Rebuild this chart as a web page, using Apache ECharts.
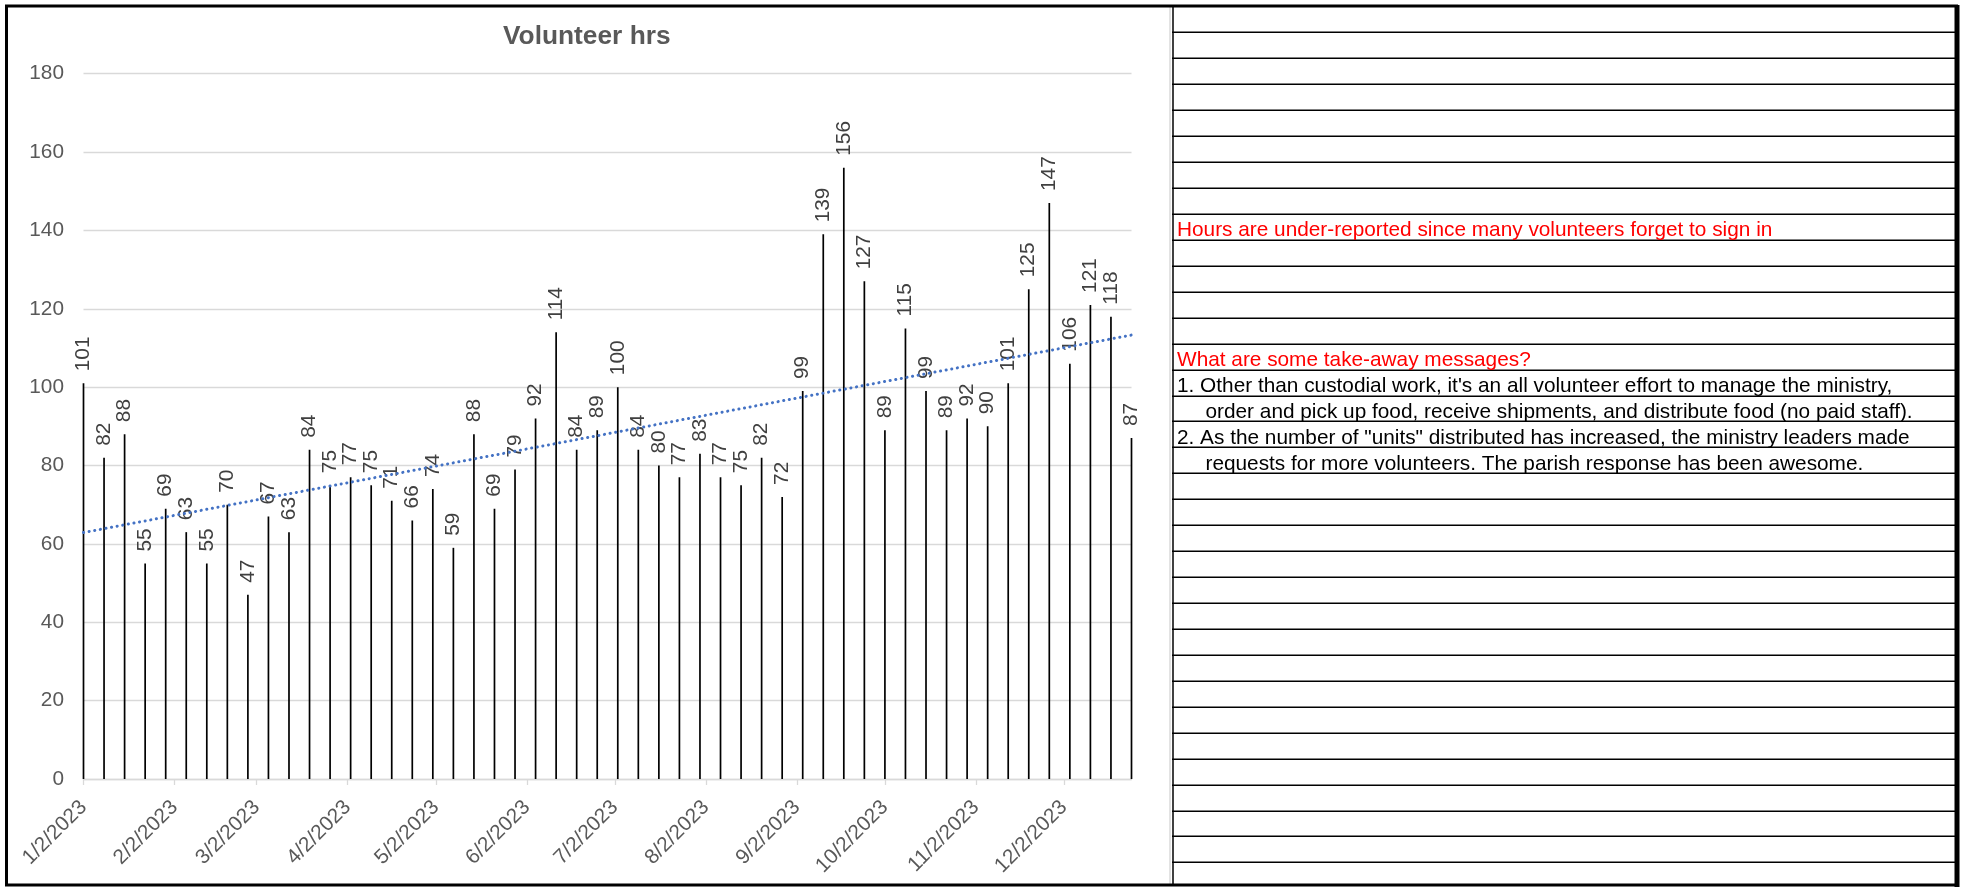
<!DOCTYPE html>
<html><head><meta charset="utf-8">
<script src="https://cdn.jsdelivr.net/npm/echarts@6/dist/echarts.min.js"></script>
<style>html,body{margin:0;padding:0;background:#fff}#c{width:1965px;height:888px}</style>
</head><body><div id="c"></div>
<script>
// ---------- data ----------
const weekDates = [
 '2023-01-02','2023-01-09','2023-01-16','2023-01-23','2023-01-30',
 '2023-02-06','2023-02-13','2023-02-20','2023-02-27',
 '2023-03-06','2023-03-13','2023-03-20','2023-03-27',
 '2023-04-03','2023-04-10','2023-04-17','2023-04-24',
 '2023-05-01','2023-05-08','2023-05-15','2023-05-22','2023-05-29',
 '2023-06-05','2023-06-12','2023-06-19','2023-06-26',
 '2023-07-03','2023-07-10','2023-07-17','2023-07-24','2023-07-31',
 '2023-08-07','2023-08-14','2023-08-21','2023-08-28',
 '2023-09-04','2023-09-11','2023-09-18','2023-09-25',
 '2023-10-02','2023-10-09','2023-10-16','2023-10-23','2023-10-30',
 '2023-11-06','2023-11-13','2023-11-20','2023-11-27',
 '2023-12-04','2023-12-11','2023-12-18','2023-12-25'
];
const hours = [
 101,82,88,55,69,
 63,55,70,47,
 67,63,84,75,
 77,75,71,66,
 74,59,88,69,79,
 92,114,84,89,
 100,84,80,77,83,
 77,75,82,72,
 99,139,156,127,
 89,115,99,89,92,
 90,101,125,147,
 106,121,118,87
];
const tickDates = ['2023-01-02','2023-02-02','2023-03-02','2023-04-02','2023-05-02','2023-06-02',
 '2023-07-02','2023-08-02','2023-09-02','2023-10-02','2023-11-02','2023-12-02'];
const tickLabels = ['1/2/2023','2/2/2023','3/2/2023','4/2/2023','5/2/2023','6/2/2023',
 '7/2/2023','8/2/2023','9/2/2023','10/2/2023','11/2/2023','12/2/2023'];
const axisStart = '2023-01-02';
const axisEnd = '2023-12-25';
const trendDates = ['2023-01-02','2023-12-25'];
const trendValues = [62.9, 113.3];
const chartTitle = 'Volunteer hrs';
const noteTexts = [
 'Hours are under-reported since many volunteers forget to sign in',
 'What are some take-away messages?',
 '1. Other than custodial work, it\'s an all volunteer effort to manage the ministry,',
 'order and pick up food, receive shipments, and distribute food (no paid staff).',
 '2. As the number of "units" distributed has increased, the ministry leaders made',
 'requests for more volunteers. The parish response has been awesome.'
];

// ---------- helpers ----------
function ts(s){const p=s.split('-').map(Number);return Date.UTC(p[0],p[1]-1,p[2]);}
const tickVals = tickDates.map(ts);
const FONT = '"Liberation Sans", Arial, sans-serif';

// ---------- layout of the right-hand sheet ----------
const noteRows = [8,13,14,15,16,17];
const noteIndent = [false,false,false,true,false,true];
const noteColor = ['#ff0000','#ff0000','#000000','#000000','#000000','#000000'];
const rowTop = 6.4, rowH = 25.94, sheetL = 1172, sheetR = 1955;

const graphics = [];
graphics.push({type:'line',shape:{x1:1170,y1:6,x2:1170,y2:886},style:{stroke:'#d0d0d0',lineWidth:1.2},silent:true});
graphics.push({type:'line',shape:{x1:1173,y1:6,x2:1173,y2:886},style:{stroke:'#000',lineWidth:1.5},silent:true});
for(let k=1;k<=33;k++){
  const y=Math.round(rowTop+rowH*k)+0.25;
  graphics.push({type:'line',shape:{x1:sheetL,y1:y,x2:sheetR,y2:y},style:{stroke:'#000',lineWidth:1.6},silent:true});
}
noteTexts.forEach((t,i)=>{
  const yMid = rowTop + rowH*(noteRows[i]+0.5) + 3.7;
  graphics.push({type:'text',x: noteIndent[i]?1205.5:1177,y:yMid,silent:true,
    style:{text:t,fill:noteColor[i],font:'20.8px '+FONT,textAlign:'left',textVerticalAlign:'middle'}});
});
graphics.push({type:'rect',shape:{x:6.5,y:6,width:1950,height:879},style:{fill:'none',stroke:'#000',lineWidth:3},silent:true});
graphics.push({type:'line',shape:{x1:1957,y1:5,x2:1957,y2:887},style:{stroke:'#000',lineWidth:5},silent:true});

const chart = echarts.init(document.getElementById('c'));
chart.setOption({
  animation:false,
  backgroundColor:'#fff',
  textStyle:{fontFamily:FONT},
  title:{text:chartTitle,left:503,top:24,padding:0,
    textStyle:{fontSize:26.3,fontWeight:'bold',color:'#595959',fontFamily:FONT}},
  grid:{left:83.5,right:833.5,top:73.7,bottom:109,containLabel:false},
  xAxis:{type:'value',min:ts(axisStart),max:ts(axisEnd),
    splitLine:{show:false},
    axisLine:{show:true,lineStyle:{color:'#d9d9d9',width:1.3}},
    axisTick:{show:true,customValues:tickVals,length:6,lineStyle:{color:'#d9d9d9',width:1.3}},
    axisLabel:{customValues:tickVals,rotate:45,fontSize:20.8,color:'#595959',margin:25,fontFamily:FONT,
      formatter:function(v){const i=tickVals.indexOf(v);return i>=0?tickLabels[i]:'';}}
  },
  yAxis:{type:'value',min:0,max:180,interval:20,
    axisLine:{show:false},axisTick:{show:false},
    splitLine:{show:true,lineStyle:{color:'#d9d9d9',width:1.3}},
    axisLabel:{fontSize:20.8,color:'#595959',margin:19.5,fontFamily:FONT}
  },
  series:[
    {type:'bar',name:'Volunteer hrs',barWidth:1.7,
      data:weekDates.map((d,i)=>[ts(d),hours[i]]),
      itemStyle:{color:'#000'},
      label:{show:true,position:'top',rotate:90,align:'left',verticalAlign:'middle',distance:12,
        fontSize:20.8,color:'#404040',fontFamily:FONT}
    },
    {type:'line',name:'Trend',silent:true,symbol:'none',z:5,
      data:trendDates.map((d,i)=>[ts(d),trendValues[i]]),
      lineStyle:{color:'#4472C4',width:3,type:[0.1,5.6],cap:'round'}
    }
  ],
  graphic:graphics
});
</script></body></html>
